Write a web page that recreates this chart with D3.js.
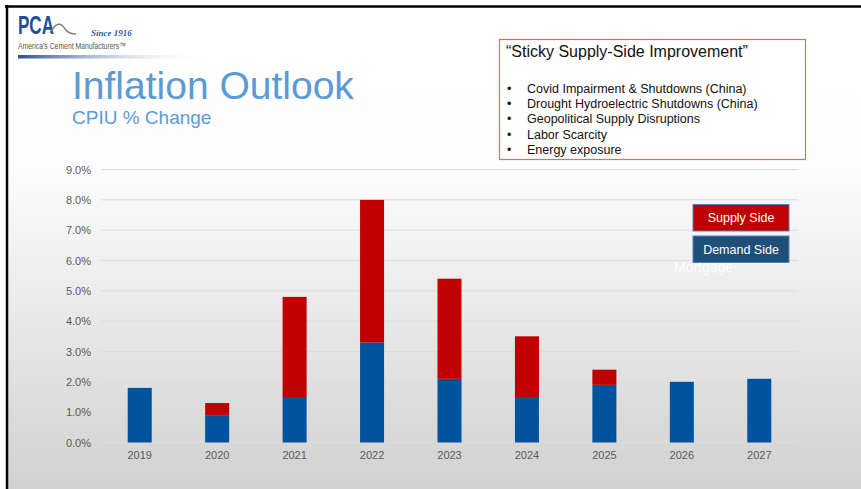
<!DOCTYPE html>
<html>
<head>
<meta charset="utf-8">
<script src="https://cdn.jsdelivr.net/npm/d3@7"></script>
<style>
  body { margin: 0; background: #fff; }
  svg text { font-family: "Liberation Sans", Arial, sans-serif; }
</style>
</head>
<body>
<div id="chart"></div>
<script>
const W = 861, H = 489;

// chart data (CPIU % change, split into demand and supply side)
const years = ["2019", "2020", "2021", "2022", "2023", "2024", "2025", "2026", "2027"];
const demandSide = [1.8, 0.9, 1.5, 3.3, 2.1, 1.5, 1.9, 2.0, 2.1];
const supplySide = [0, 0.4, 3.3, 4.7, 3.3, 2.0, 0.5, 0, 0];
const yTicks = [0, 1, 2, 3, 4, 5, 6, 7, 8, 9];
const seriesNames = ["Supply Side", "Demand Side"];
const bullets = [
  "Covid Impairment & Shutdowns (China)",
  "Drought Hydroelectric Shutdowns (China)",
  "Geopolitical Supply Disruptions",
  "Labor Scarcity",
  "Energy exposure"
];

let svg = d3.select("#chart").append("svg")
    .attr("width", W)
    .attr("height", H);

let defs = svg.append("defs");
let bg = defs.append("linearGradient").attr("id", "bg")
    .attr("x1", 0).attr("y1", 0).attr("x2", 0).attr("y2", 1);
bg.append("stop").attr("offset", "0%").attr("stop-color", "#ffffff");
bg.append("stop").attr("offset", "33%").attr("stop-color", "#fdfdfd");
bg.append("stop").attr("offset", "100%").attr("stop-color", "#d1d1d1");

let logoBar = defs.append("linearGradient").attr("id", "logobar");
logoBar.append("stop").attr("offset", "0%").attr("stop-color", "#2a4f93");
logoBar.append("stop").attr("offset", "100%").attr("stop-color", "#ffffff").attr("stop-opacity", 0);

// slide background + black frame
svg.append("rect").attr("x", 7).attr("y", 7).attr("width", W - 7).attr("height", H - 7)
    .attr("fill", "url(#bg)");
svg.append("line").attr("x1", 5).attr("x2", W).attr("y1", 6.5).attr("y2", 6.5)
    .attr("stroke", "#000").attr("stroke-width", 2.5);
svg.append("line").attr("x1", 7).attr("x2", 7).attr("y1", 5).attr("y2", H)
    .attr("stroke", "#000").attr("stroke-width", 2.5);

// logo
let logo = svg.append("g");
logo.append("text").attr("x", 18).attr("y", 34)
    .style("font-size", "26px").style("font-weight", "bold")
    .attr("fill", "#1d4f98")
    .attr("textLength", 36).attr("lengthAdjust", "spacingAndGlyphs")
    .text("PCA");
logo.append("path")
    .attr("d", "M50,33 C56,22 61,22 65,29 C68,33 71,34 76,34")
    .attr("fill", "none").attr("stroke", "#8a7d6a").attr("stroke-width", 1.5);
logo.append("text").attr("x", 91).attr("y", 36)
    .style("font-family", "'Liberation Serif', serif")
    .style("font-size", "9px").style("font-style", "italic").style("font-weight", "bold")
    .attr("fill", "#2a5aa8").text("Since 1916");
logo.append("text").attr("x", 18).attr("y", 49)
    .style("font-size", "9px").attr("fill", "#555")
    .attr("textLength", 108).attr("lengthAdjust", "spacingAndGlyphs")
    .text("America's Cement Manufacturers™");
logo.append("rect").attr("x", 18).attr("y", 55).attr("width", 190).attr("height", 3.5)
    .attr("fill", "url(#logobar)");

// titles
svg.append("text").attr("x", 72).attr("y", 99)
    .style("font-size", "39px").attr("fill", "#5b9bd5")
    .text("Inflation Outlook");
svg.append("text").attr("x", 72).attr("y", 124)
    .style("font-size", "19px").attr("fill", "#5b9bd5")
    .text("CPIU % Change");

// note box
let note = svg.append("g");
note.append("rect").attr("x", 499.5).attr("y", 39.5).attr("width", 306).attr("height", 120)
    .attr("fill", "#fff").attr("stroke", "#e06c6c").attr("stroke-width", 1.2);
note.append("text").attr("x", 506).attr("y", 57)
    .style("font-size", "16px").attr("fill", "#111")
    .text("“Sticky Supply-Side Improvement”");
note.selectAll("g.bullet").data(bullets).enter().append("g")
    .attr("class", "bullet")
    .attr("transform", (d, i) => `translate(0, ${93 + i * 15.2})`)
    .each(function(d) {
      let g = d3.select(this);
      g.append("text").attr("x", 507).style("font-size", "12.5px").attr("fill", "#111").text("•");
      g.append("text").attr("x", 527).style("font-size", "12.5px").attr("fill", "#111").text(d);
    });

// chart
const plotLeft = 101, plotRight = 798, plotTop = 169.5, plotBottom = 442.5;

let x = d3.scaleBand()
    .domain(years)
    .range([plotLeft, plotRight])
    .paddingInner(0.69)
    .paddingOuter(0.345);

let y = d3.scaleLinear()
    .domain([0, 9])
    .range([plotBottom, plotTop]);

let rows = years.map((yr, i) => ({ year: yr, demand: demandSide[i], supply: supplySide[i] }));
let stacked = d3.stack().keys(["demand", "supply"])(rows);
let color = d3.scaleOrdinal().domain(["demand", "supply"]).range(["#00539c", "#c00000"]);

// gridlines
svg.append("g")
    .selectAll("line").data(yTicks).enter().append("line")
    .attr("x1", plotLeft).attr("x2", plotRight)
    .attr("y1", d => y(d)).attr("y2", d => y(d))
    .attr("stroke", "#dcdcdc").attr("stroke-width", 1);

let yAxis = svg.append("g")
    .attr("transform", `translate(${plotLeft - 8}, 0)`)
    .call(d3.axisLeft(y).tickValues(yTicks).tickSize(0).tickPadding(2)
      .tickFormat(d => d.toFixed(1) + "%"));
yAxis.select(".domain").remove();
yAxis.selectAll("text").style("font-size", "11px").attr("fill", "#595959")
    .style("font-family", "'Liberation Sans', Arial, sans-serif");

svg.append("g").selectAll("g").data(stacked).enter().append("g")
    .attr("fill", d => color(d.key))
    .selectAll("rect").data(d => d.filter(s => s[1] > s[0])).enter().append("rect")
    .attr("x", d => x(d.data.year))
    .attr("y", d => y(d[1]))
    .attr("width", x.bandwidth())
    .attr("height", d => y(d[0]) - y(d[1]));

let xAxis = svg.append("g")
    .attr("transform", `translate(0, ${plotBottom})`)
    .call(d3.axisBottom(x).tickSize(0).tickPadding(9));
xAxis.select(".domain").remove();
xAxis.selectAll("text").style("font-size", "11px").attr("fill", "#595959")
    .style("font-family", "'Liberation Sans', Arial, sans-serif");

// legend boxes
let legendFill = ["#c00000", "#1f4e79"];
let legend = svg.append("g").selectAll("g").data(seriesNames).enter().append("g")
    .attr("transform", (d, i) => `translate(693, ${204.5 + i * 31.5})`);
legend.append("rect")
    .attr("width", 96).attr("height", 26.5)
    .attr("fill", (d, i) => legendFill[i])
    .attr("stroke", "#4f81bd").attr("stroke-width", 1);
legend.append("text")
    .attr("x", 48).attr("y", 17.5)
    .style("text-anchor", "middle").style("font-size", "12.5px")
    .attr("fill", "#fff").text(d => d);

svg.append("text").attr("x", 674).attr("y", 272)
    .style("font-size", "14px").attr("fill", "#fff").attr("opacity", 0.85)
    .text("Mortgage");
</script>
</body>
</html>
